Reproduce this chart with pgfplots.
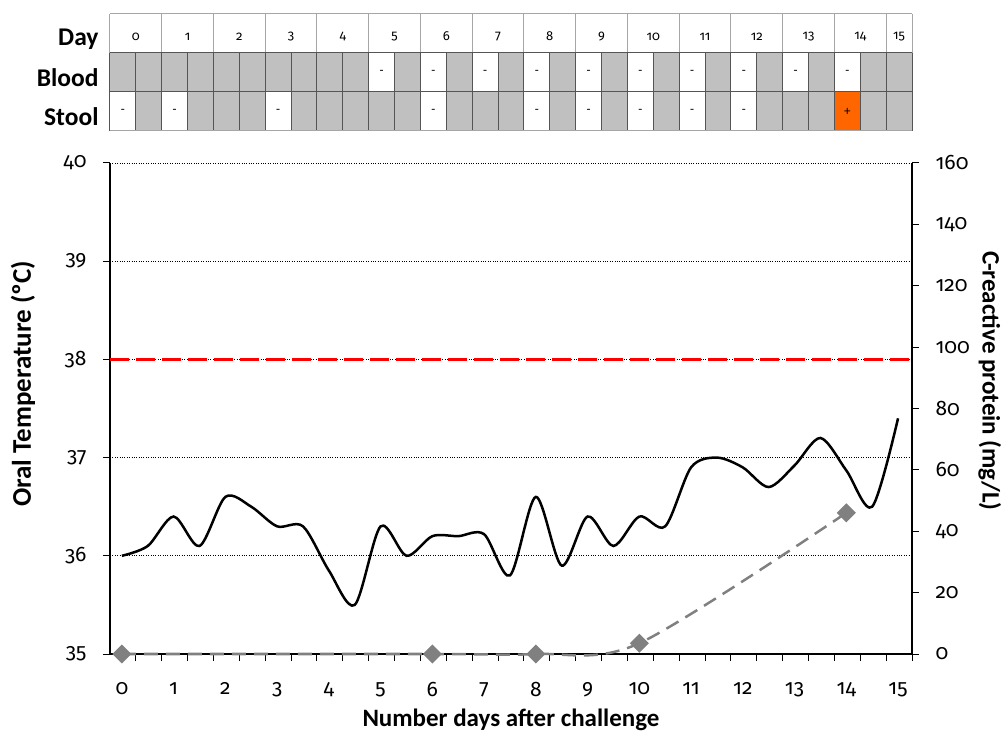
\documentclass[border=0pt]{standalone}
\usepackage{fontspec}
\setmainfont{Carlito}
\newfontfamily\numfont{Fira Sans}[Numbers=OldStyle]
\usepackage{pgfplots}
\pgfplotsset{compat=1.18}
\definecolor{cellgray}{HTML}{C0C0C0}
\definecolor{lineg}{HTML}{808080}
\definecolor{orng}{HTML}{FF6600}
\definecolor{hdrline}{HTML}{A6A6A6}
\definecolor{datline}{HTML}{555555}
\begin{document}
\begin{tikzpicture}
% ---------- top table ----------
\begin{axis}[at={(0,523bp)}, anchor=south west, scale only axis,
  width=802bp, height=117bp, xmin=0, xmax=15.5, ymin=0, ymax=3,
  hide axis, clip=false]
  \fill[cellgray] (axis cs:0,0) rectangle (axis cs:15.5,2);
  \pgfplotsinvokeforeach{5,...,14}{
    \fill[white] (axis cs:#1,1) rectangle (axis cs:#1.5,2);
  }
  \pgfplotsinvokeforeach{0,1,3,6,8,9,10,11,12}{
    \fill[white] (axis cs:#1,0) rectangle (axis cs:#1.5,1);
  }
  \fill[orng] (axis cs:14,0) rectangle (axis cs:14.5,1);
  % lines
  \pgfplotsinvokeforeach{0,0.5,...,15.5}{
    \draw[datline, line width=1bp] (axis cs:#1,0) -- (axis cs:#1,2);
  }
  \pgfplotsinvokeforeach{0,...,15,15.5}{
    \draw[hdrline, line width=1bp] (axis cs:#1,2) -- (axis cs:#1,3);
  }
  \draw[hdrline, line width=1bp] (axis cs:0,3) -- (axis cs:15.5,3);
  \draw[datline, line width=1bp] (axis cs:0,2) -- (axis cs:15.5,2);
  \draw[datline, line width=1bp] (axis cs:0,1) -- (axis cs:15.5,1);
  \draw[hdrline, line width=1bp] (axis cs:0,0) -- (axis cs:15.5,0);
  % texts
  \pgfplotsinvokeforeach{0,...,14}{
    \node[font=\numfont\fontsize{13bp}{15bp}\selectfont] at (axis cs:#1.5,2.42) {#1};
  }
  \node[font=\numfont\fontsize{13bp}{15bp}\selectfont] at (axis cs:15.25,2.42) {15};
  \pgfplotsinvokeforeach{5,...,14}{
    \node[font=\fontsize{13bp}{15bp}\selectfont] at (axis cs:#1.25,1.5) {-};
  }
  \pgfplotsinvokeforeach{0,1,3,6,8,9,10,11,12}{
    \node[font=\fontsize{13bp}{15bp}\selectfont] at (axis cs:#1.25,0.5) {-};
  }
  \node[font=\fontsize{13bp}{15bp}\selectfont] at (axis cs:14.25,0.5) {+};
  \node[anchor=base east, font=\fontsize{25.5bp}{28bp}\selectfont\bfseries, xshift=-8bp] at (axis cs:0,2.18) {Day};
  \node[anchor=base east, font=\fontsize{25.5bp}{28bp}\selectfont\bfseries, xshift=-8bp] at (axis cs:0,1.13) {Blood};
  \node[anchor=base east, font=\fontsize{25.5bp}{28bp}\selectfont\bfseries, xshift=-8bp] at (axis cs:0,0.13) {Stool};
\end{axis}
% ---------- main axis: temperature ----------
\begin{axis}[at={(0,0)}, anchor=south west, scale only axis,
  width=802bp, height=491bp,
  xmin=-0.23, xmax=15.27, ymin=35, ymax=40,
  axis x line*=bottom, axis y line*=left,
  axis line style={black, line width=1.2bp},
  tick align=outside, major tick length=7bp, minor tick length=6bp,
  tick style={black, line width=1bp},
  xtick={0.27,0.77,...,15.27}, xticklabels={},
  extra x ticks={0,...,15},
  extra x tick style={major tick length=0pt, xticklabel style={yshift=-25bp}},
  ytick={35,...,40},
  ymajorgrids, grid style={black, dotted, line width=0.7bp},
  /pgf/number format/assume math mode=true,
  tick label style={font=\numfont\fontsize{21bp}{24bp}\selectfont},
  yticklabel style={xshift=-13bp},
  xlabel={Number days after challenge},
  ylabel={Oral Temperature (ºC)},
  every axis x label/.style={at={(axis description cs:0.5,-0.134)}, anchor=center, font=\fontsize{25bp}{28bp}\selectfont\bfseries},
  every axis y label/.style={at={(axis description cs:-0.1085,0.55)}, rotate=90, anchor=center, font=\fontsize{27bp}{30bp}\selectfont\bfseries},
]
  \addplot[red, line width=3bp, dash pattern=on 19bp off 7bp] coordinates {(-0.23,38) (15.27,38)};
  \addplot[black, line width=2.5bp, smooth, tension=0.5] coordinates {
    (0,36.0) (0.5,36.1) (1,36.4) (1.5,36.1) (2,36.6) (2.5,36.5) (3,36.3) (3.5,36.3)
    (4,35.85) (4.5,35.5) (5,36.3) (5.5,36.0) (6,36.2) (6.5,36.2) (7,36.22) (7.5,35.8)
    (8,36.6) (8.5,35.9) (9,36.4) (9.5,36.1) (10,36.4) (10.5,36.3) (11,36.9) (11.5,37.0)
    (12,36.9) (12.5,36.7) (13,36.92) (13.5,37.2) (14,36.87) (14.5,36.5) (15,37.4)
  };
\end{axis}
% ---------- right axis: CRP ----------
\begin{axis}[at={(0,0)}, anchor=south west, scale only axis,
  width=802bp, height=491bp,
  xmin=-0.23, xmax=15.27, ymin=0, ymax=160,
  axis y line*=right, axis x line=none,
  axis line style={black, line width=1.2bp},
  tick align=outside, major tick length=7bp,
  tick style={black, line width=1bp},
  ytick={0,20,...,160},
  /pgf/number format/assume math mode=true,
  tick label style={font=\numfont\fontsize{21bp}{24bp}\selectfont},
  yticklabel style={xshift=13bp},
  ylabel={C-reactive protein (mg/L)},
  every axis y label/.style={at={(axis description cs:1.097,0.556)}, rotate=-90, anchor=center, font=\fontsize{25bp}{28bp}\selectfont\bfseries},
  clip=false,
]
  \addplot[lineg, line width=2.5bp, dash pattern=on 14bp off 8bp, smooth, tension=0.5,
    mark=square*, mark size=5.5bp, mark options={solid, rotate=45, fill=lineg, draw=lineg}] coordinates {
    (0,0) (6,0) (8,0) (10,3.5) (14,46)
  };
\end{axis}
\pgfresetboundingbox
\path[use as bounding box] (-110bp,-79bp) rectangle (898bp,654bp);
\end{tikzpicture}
\end{document}
